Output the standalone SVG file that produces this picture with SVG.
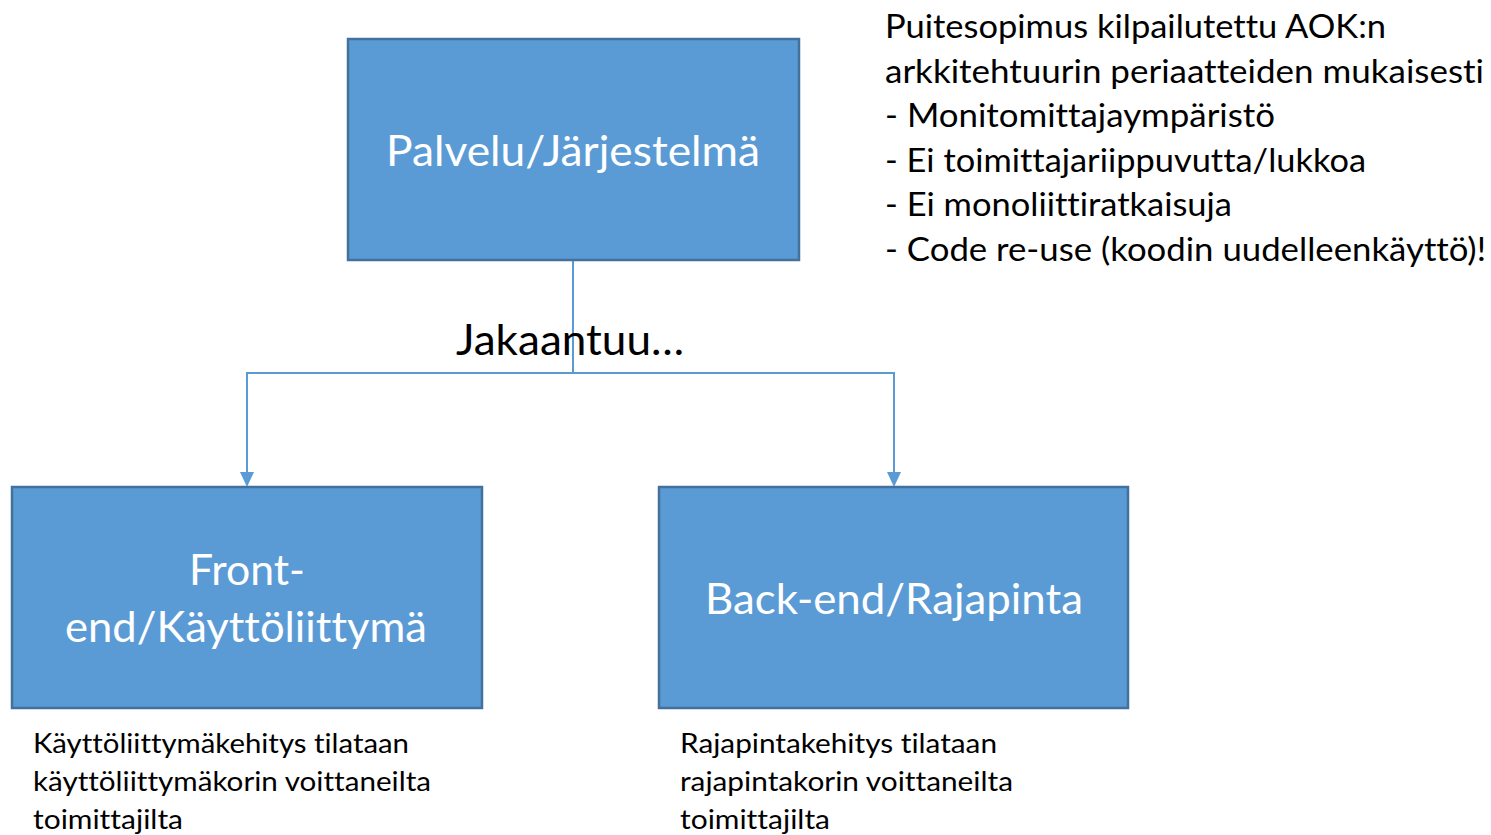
<svg xmlns="http://www.w3.org/2000/svg" width="1491" height="835" viewBox="0 0 1491 835">
<style>
.box{fill:#5B9BD5;stroke:#41719C;stroke-width:2.5}
.lbl{font-family:Lato,"Open Sans","Liberation Sans",sans-serif;fill:#fff;font-variant-ligatures:none}
.txt{font-family:Lato,"Open Sans","Liberation Sans",sans-serif;fill:#000;font-variant-ligatures:none}
.conn{fill:none;stroke:#5B9BD5;stroke-width:2}
.head{fill:#5B9BD5}
</style>
<rect width="1491" height="835" fill="#fff"/>
<g id="connectors">
<path class="conn" d="M573,260 V373"/>
<path class="conn" d="M573,373 H247 V472"/>
<path class="conn" d="M573,373 H894 V472"/>
<path class="head" d="M240,472 L254,472 L247,487 Z"/>
<path class="head" d="M887,472 L901,472 L894,487 Z"/>
</g>
<g id="label-jakaantuu">
<text class="txt" x="456" y="355" font-size="43" textLength="228" lengthAdjust="spacingAndGlyphs">Jakaantuu…</text>
</g>
<g id="node-palvelu">
<rect class="box" x="348" y="39" width="451" height="221"/>
<text class="lbl" x="386" y="166" font-size="43" textLength="374" lengthAdjust="spacingAndGlyphs">Palvelu/Järjestelmä</text>
</g>
<g id="node-frontend">
<rect class="box" x="12" y="487" width="470" height="221"/>
<text class="lbl" x="189" y="585" font-size="42" textLength="116" lengthAdjust="spacingAndGlyphs">Front-</text>
<text class="lbl" x="65" y="642" font-size="42" textLength="362" lengthAdjust="spacingAndGlyphs">end/Käyttöliittymä</text>
</g>
<g id="node-backend">
<rect class="box" x="659" y="487" width="469" height="221"/>
<text class="lbl" x="705" y="614" font-size="42" textLength="378" lengthAdjust="spacingAndGlyphs">Back-end/Rajapinta</text>
</g>
<g id="note-frontend">
<text class="txt" x="33" y="753" font-size="26" textLength="376" lengthAdjust="spacingAndGlyphs">Käyttöliittymäkehitys tilataan</text>
<text class="txt" x="33" y="791" font-size="26" textLength="398" lengthAdjust="spacingAndGlyphs">käyttöliittymäkorin voittaneilta</text>
<text class="txt" x="33" y="829" font-size="26" textLength="150" lengthAdjust="spacingAndGlyphs">toimittajilta</text>
</g>
<g id="note-backend">
<text class="txt" x="680" y="753" font-size="26" textLength="317" lengthAdjust="spacingAndGlyphs">Rajapintakehitys tilataan</text>
<text class="txt" x="680" y="791" font-size="26" textLength="333" lengthAdjust="spacingAndGlyphs">rajapintakorin voittaneilta</text>
<text class="txt" x="680" y="829" font-size="26" textLength="150" lengthAdjust="spacingAndGlyphs">toimittajilta</text>
</g>
<g id="note-principles">
<text class="txt" x="885" y="38" font-size="33" textLength="501" lengthAdjust="spacingAndGlyphs">Puitesopimus kilpailutettu AOK:n</text>
<text class="txt" x="885" y="83" font-size="33" textLength="599" lengthAdjust="spacingAndGlyphs">arkkitehtuurin periaatteiden mukaisesti</text>
<text class="txt" x="885" y="127" font-size="33" textLength="390" lengthAdjust="spacingAndGlyphs">- Monitomittajaympäristö</text>
<text class="txt" x="885" y="172" font-size="33" textLength="481" lengthAdjust="spacingAndGlyphs">- Ei toimittajariippuvutta/lukkoa</text>
<text class="txt" x="885" y="216" font-size="33" textLength="347" lengthAdjust="spacingAndGlyphs">- Ei monoliittiratkaisuja</text>
<text class="txt" x="885" y="261" font-size="33" textLength="601" lengthAdjust="spacingAndGlyphs">- Code re-use (koodin uudelleenkäyttö)!</text>
</g>
</svg>
